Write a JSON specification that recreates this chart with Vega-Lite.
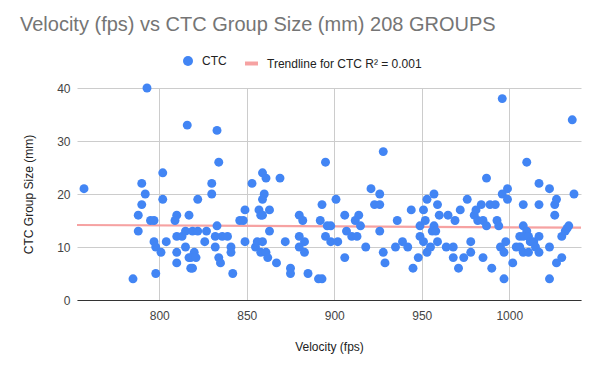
{
  "$schema": "https://vega.github.io/schema/vega-lite/v6.json",
  "width": 504,
  "height": 212,
  "autosize": "none",
  "padding": {"left": 77, "top": 88, "right": 19, "bottom": 71},
  "background": "white",
  "config": {
    "view": {"stroke": null},
    "font": "Liberation Sans",
    "axis": {"labelFont": "Liberation Sans", "titleFont": "Liberation Sans", "labelFontSize": 12, "labelColor": "#444444", "titleFontSize": 12, "titleFontWeight": "normal", "titleColor": "#222222", "gridColor": "#cccccc", "ticks": false},
    "legend": {"labelFont": "Liberation Sans", "labelFontSize": 12, "labelColor": "#222222"}
  },
  "title": {"text": "Velocity (fps) vs CTC Group Size (mm) 208 GROUPS", "anchor": "start", "frame": "group", "dx": -57, "offset": 0, "fontSize": 20, "fontWeight": "normal", "color": "#757575", "font": "Liberation Sans", "baseline": "bottom"},
  "datasets": {
    "trend": [{"v": 753, "s": 14.15}, {"v": 1041, "s": 13.64}]
  },
  "data": {"values": [
    {"v":757,"s":21},{"v":790,"s":22},{"v":792,"s":20},{"v":793,"s":40},{"v":816,"s":33},{"v":802,"s":24},{"v":790,"s":18},{"v":802,"s":19},{"v":788,"s":16},{"v":795,"s":15},
    {"v":797,"s":15},{"v":788,"s":13},{"v":797,"s":11},{"v":798,"s":10},{"v":801,"s":9},{"v":804,"s":11},{"v":785,"s":4},{"v":798,"s":5},{"v":810,"s":16},{"v":809,"s":15},
    {"v":817,"s":16},{"v":810,"s":12},{"v":813,"s":12},{"v":815,"s":13},{"v":815,"s":10},{"v":810,"s":9},{"v":810,"s":7},{"v":817,"s":8},{"v":818,"s":6},{"v":833,"s":32},
    {"v":834,"s":26},{"v":830,"s":22},{"v":830,"s":20},{"v":853,"s":22},{"v":859,"s":24},{"v":861,"s":23},{"v":869,"s":23},{"v":860,"s":20},{"v":822,"s":19},{"v":859,"s":19},
    {"v":857,"s":17},{"v":858,"s":16},{"v":859,"s":16},{"v":863,"s":17},{"v":849,"s":17},{"v":846,"s":15},{"v":848,"s":15},{"v":833,"s":14},{"v":819,"s":13},{"v":822,"s":13},
    {"v":827,"s":13},{"v":826,"s":11},{"v":832,"s":12},{"v":836,"s":12},{"v":839,"s":12},{"v":832,"s":10},{"v":820,"s":9},{"v":818,"s":8},{"v":821,"s":8},{"v":819,"s":6},
    {"v":841,"s":10},{"v":841,"s":9},{"v":834,"s":8},{"v":835,"s":7},{"v":842,"s":5},{"v":849,"s":11},{"v":855,"s":10},{"v":856,"s":11},{"v":859,"s":11},{"v":858,"s":9},
    {"v":861,"s":9},{"v":862,"s":8},{"v":863,"s":13},{"v":867,"s":7},{"v":872,"s":11},{"v":875,"s":6},{"v":875,"s":5},{"v":880,"s":16},{"v":882,"s":15},{"v":880,"s":12},
    {"v":883,"s":11},{"v":880,"s":10},{"v":883,"s":9},{"v":885,"s":5},{"v":895,"s":26},{"v":928,"s":28},{"v":921,"s":21},{"v":926,"s":20},{"v":901,"s":19},{"v":893,"s":18},
    {"v":923,"s":18},{"v":926,"s":18},{"v":944,"s":17},{"v":951,"s":17},{"v":953,"s":19},{"v":906,"s":16},{"v":914,"s":16},{"v":912,"s":15},{"v":915,"s":14},{"v":892,"s":15},
    {"v":896,"s":14},{"v":898,"s":14},{"v":907,"s":13},{"v":910,"s":12},{"v":913,"s":12},{"v":895,"s":12},{"v":898,"s":11},{"v":902,"s":11},{"v":926,"s":13},{"v":918,"s":10},
    {"v":906,"s":8},{"v":928,"s":9},{"v":929,"s":7},{"v":936,"s":15},{"v":935,"s":10},{"v":939,"s":11},{"v":942,"s":10},{"v":945,"s":6},{"v":948,"s":8},{"v":949,"s":14},
    {"v":949,"s":12},{"v":951,"s":11},{"v":952,"s":15},{"v":953,"s":9},{"v":891,"s":4},{"v":893,"s":4},{"v":996,"s":38},{"v":1036,"s":34},{"v":1010,"s":26},{"v":987,"s":23},
    {"v":1017,"s":22},{"v":1023,"s":21},{"v":999,"s":21},{"v":996,"s":20},{"v":1037,"s":20},{"v":957,"s":20},{"v":999,"s":19},{"v":959,"s":18},{"v":960,"s":16},{"v":965,"s":16},
    {"v":972,"s":17},{"v":976,"s":19},{"v":969,"s":15},{"v":984,"s":18},{"v":989,"s":18},{"v":992,"s":18},{"v":980,"s":16},{"v":981,"s":17},{"v":982,"s":15},{"v":985,"s":15},
    {"v":987,"s":14},{"v":993,"s":15},{"v":994,"s":14},{"v":1008,"s":18},{"v":1017,"s":18},{"v":1026,"s":18},{"v":1027,"s":19},{"v":1026,"s":16},{"v":957,"s":14},{"v":956,"s":13},
    {"v":958,"s":13},{"v":959,"s":11},{"v":955,"s":10},{"v":964,"s":10},{"v":968,"s":10},{"v":968,"s":8},{"v":971,"s":6},{"v":974,"s":8},{"v":978,"s":11},{"v":978,"s":9},
    {"v":985,"s":8},{"v":990,"s":6},{"v":995,"s":10},{"v":997,"s":9},{"v":998,"s":11},{"v":997,"s":4},{"v":1002,"s":7},{"v":1004,"s":10},{"v":1006,"s":10},{"v":1008,"s":14},
    {"v":1010,"s":13},{"v":1006,"s":12},{"v":1008,"s":12},{"v":1011,"s":12},{"v":1012,"s":11},{"v":1008,"s":9},{"v":1011,"s":9},{"v":1014,"s":11},{"v":1015,"s":10},{"v":1017,"s":12},
    {"v":1017,"s":9},{"v":1023,"s":10},{"v":1023,"s":4},{"v":1027,"s":7},{"v":1030,"s":8},{"v":1030,"s":12},{"v":1032,"s":13},{"v":1033,"s":13.5},{"v":1034,"s":14}
  ]},
  "layer": [
    {
      "data": {"name": "trend"},
      "mark": {"type": "line", "strokeWidth": 2.2, "clip": true},
      "encoding": {
        "x": {"field": "v", "type": "quantitative"},
        "y": {"field": "s", "type": "quantitative"},
        "stroke": {"datum": "Trendline for CTC R² = 0.001", "type": "nominal", "scale": {"range": ["#F6A2A2"]},
          "legend": {"title": null, "orient": "none", "legendX": 166, "legendY": -33, "symbolType": "stroke", "symbolSize": 169, "symbolStrokeWidth": 4, "labelOffset": 7, "padding": 0}}
      }
    },
    {
      "mark": {"type": "circle", "size": 80, "opacity": 1},
      "encoding": {
        "x": {"field": "v", "type": "quantitative", "title": "Velocity (fps)", "scale": {"domain": [753, 1041], "nice": false, "zero": false},
          "axis": {"values": [800, 850, 900, 950, 1000], "format": "d", "labelPadding": 10, "domainColor": "#333333", "titleY": 46, "titleBaseline": "middle"}},
        "y": {"field": "s", "type": "quantitative", "title": "CTC Group Size (mm)", "scale": {"domain": [0, 40], "nice": false},
          "axis": {"values": [0, 10, 20, 30, 40], "domain": false, "labelPadding": 7, "titleX": -49, "titleBaseline": "middle"}},
        "color": {"datum": "CTC", "type": "nominal", "scale": {"range": ["#4285F4"]},
          "legend": {"title": null, "orient": "none", "legendX": 105, "legendY": -33, "symbolType": "circle", "symbolSize": 100, "labelOffset": 8, "padding": 0, "symbolOpacity": 1}}
      }
    }
  ]
}
